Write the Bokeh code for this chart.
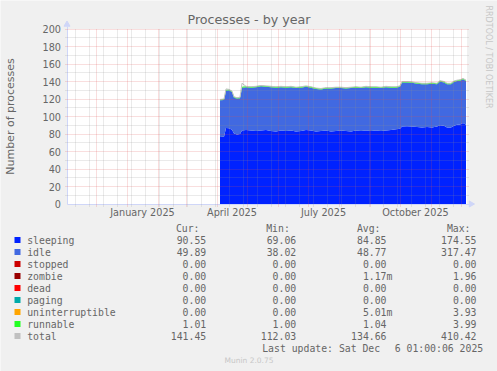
import math
import pandas as pd
from bokeh.plotting import figure
from bokeh.models import ColumnDataSource, FixedTicker, BoxAnnotation, Range1d
from bokeh.core.properties import value
from bokeh.embed import file_html
from bokeh.resources import INLINE

# ---------------- data ----------------
ORIGIN = "2024-11-02"   # left edge of the 400-day window
END_DAYS = 400

dates = ["2025-04-04", "2025-04-08", "2025-04-10", "2025-04-13", "2025-04-16", "2025-04-18",
         "2025-04-21", "2025-04-24", "2025-04-26", "2025-04-30", "2025-05-05", "2025-05-10",
         "2025-05-15", "2025-05-20", "2025-05-25", "2025-05-30", "2025-06-04", "2025-06-09",
         "2025-06-14", "2025-06-19", "2025-06-24", "2025-06-29", "2025-07-04", "2025-07-09",
         "2025-07-14", "2025-07-19", "2025-07-24", "2025-07-29", "2025-08-03", "2025-08-08",
         "2025-08-13", "2025-08-18", "2025-08-23", "2025-08-28", "2025-09-02", "2025-09-07",
         "2025-09-12", "2025-09-17", "2025-09-22", "2025-09-27", "2025-10-01", "2025-10-03",
         "2025-10-08", "2025-10-13", "2025-10-18", "2025-10-23", "2025-10-28", "2025-11-02",
         "2025-11-07", "2025-11-10", "2025-11-14", "2025-11-17", "2025-11-21", "2025-11-24",
         "2025-11-27", "2025-11-30", "2025-12-03", "2025-12-06"]
sleeping = [76.5, 77, 87, 86.5, 85, 80.5, 79.5, 80, 84, 84.5, 84, 83.5,
            84, 84.5, 83.5, 83, 84, 83.5, 84, 83, 83.5, 84.5, 84, 83,
            83.5, 84, 83, 83.5, 84, 83.5, 83, 84, 83.5, 84, 83.5, 84,
            83.5, 84, 84.5, 85.5, 86, 88.5, 89, 88.5, 88, 87.5, 88, 87.5,
            88.5, 90, 89.5, 87.5, 87.5, 89.5, 90.5, 91, 92.5, 90.5]
idle = [42, 42, 42.5, 43.5, 43, 41, 41, 41, 49, 49, 49, 50,
        50.5, 49.5, 50, 50, 49.5, 49.5, 49.5, 49.5, 49.5, 49.5, 49, 48.5,
        47.5, 48, 49, 49, 48.5, 48.5, 49.5, 49, 49, 49.5, 49.5, 49,
        49, 49.5, 48.5, 47.5, 48, 50.5, 50, 50, 49.5, 49.5, 49, 50,
        48.5, 50, 49.5, 49.5, 49.5, 50, 50, 50, 50, 50]
runnable = [1.0, 1.0, 1.0, 1.0, 1.0, 1.0, 1.0, 1.0, 1.0, 1.0, 1.0, 1.0,
            1.0, 1.0, 1.0, 1.0, 1.0, 1.0, 1.0, 1.0, 1.0, 1.0, 1.0, 1.0,
            1.0, 1.0, 1.0, 1.0, 1.0, 1.0, 1.0, 1.0, 1.0, 1.0, 1.0, 1.0,
            1.0, 1.0, 1.0, 1.0, 1.0, 1.0, 1.0, 1.0, 1.0, 1.0, 1.0, 1.0,
            1.0, 1.0, 1.0, 1.0, 1.0, 1.0, 1.0, 1.0, 1.0, 1.0]
total = [119.5, 120, 131.5, 131, 129, 122.5, 121.5, 122, 138, 134.5, 134, 134.5,
         135.5, 135, 134.5, 134, 134.5, 134, 134.5, 133.5, 134, 135, 134, 132.5,
         132, 133, 133, 133.5, 133.5, 133, 133.5, 134, 133.5, 134.5, 134, 134,
         133.5, 134.5, 134, 134, 135, 140, 140, 139.5, 138.5, 138, 138, 138.5,
         138, 141, 140, 138, 138, 140.5, 141.5, 142, 143.5, 141.5]

y_ticks = [0, 20, 40, 60, 80, 100, 120, 140, 160, 180, 200]
y_minor = [10, 30, 50, 70, 90, 110, 130, 150, 170, 190]
x_labels = ["January 2025", "April 2025", "July 2025", "October 2025"]
x_label_months = ["2025-01", "2025-04", "2025-07", "2025-10"]

legend_names = ["sleeping", "idle", "stopped", "zombie", "dead", "paging",
                "uninterruptible", "runnable", "total"]
legend_colors = ["#0022ff", "#4169e1", "#cc0000", "#990000", "#ff0000", "#00aaaa",
                 "#ffa500", "#22ff22", "#c0c0c0"]
cur_vals = ["90.55", "49.89", "0.00", "0.00", "0.00", "0.00", "0.00", "1.01", "141.45"]
min_vals = ["69.06", "38.02", "0.00", "0.00", "0.00", "0.00", "0.00", "1.00", "112.03"]
avg_vals = ["84.85", "48.77", "0.00", "1.17m", "0.00", "0.00", "5.01m", "1.04", "134.66"]
max_vals = ["174.55", "317.47", "0.00", "1.96", "0.00", "0.00", "3.93", "3.99", "410.42"]
headers = ["Cur:", "Min:", "Avg:", "Max:"]

# ---------------- geometry (page pixels -> data) ----------------
W, H = 497, 371
X0, Y0, SY = 66.5, 203.5, 0.875      # page x of day 0, page y of value 0, px per unit
def px(X): return X - X0
def py(Y): return (Y0 - Y) / SY

org = pd.Timestamp(ORIGIN)
def day(s):
    return float((pd.Timestamp(s) - org) / pd.Timedelta(days=1))

x = [day(d) for d in dates]
src = ColumnDataSource(dict(x=x, sleeping=sleeping, idle=idle, runnable=runnable, total=total))

month_starts = [day(m) for m in pd.date_range("2024-12-01", "2025-12-01", freq="MS")]
biweeks = [day(w) for w in pd.date_range("2024-11-10", "2025-12-06", freq="14D")]
label_pos = []
for m in x_label_months:
    a = pd.Timestamp(m + "-01")
    b = a + pd.offsets.MonthBegin(1)
    label_pos.append((day(a) + day(b)) / 2.0)

FONT = "#666666"
AXIS = "#cfd6f8"
MGRID = "#de4f4f"
GRID = "#8f8f8f"
WATER = "#c7c7c7"

p = figure(width=W, height=H, output_backend="svg", toolbar_location=None,
           x_range=Range1d(px(0), px(W)), y_range=Range1d(py(H), py(0)),
           min_border=0, min_border_left=0, min_border_right=0,
           min_border_top=0, min_border_bottom=0,
           background_fill_color="#f0f0f0", border_fill_color="#f0f0f0",
           outline_line_color=None)

# white canvas of the graph
p.add_layout(BoxAnnotation(left=0, right=END_DAYS, bottom=0, top=200,
                           fill_color="white", fill_alpha=1.0, line_color=None,
                           level="underlay"))

p.varea_stack(["sleeping", "idle", "runnable"], x="x",
              color=[legend_colors[0], legend_colors[1], legend_colors[7]], source=src)
p.line("x", "total", source=src, color=legend_colors[8], line_width=1)

# grids (on top of the data, dotted, as rrdtool draws them)
xg, yg = p.xgrid[0], p.ygrid[0]
xg.ticker = FixedTicker(ticks=month_starts, minor_ticks=biweeks)
xg.cross_bounds = (py(205.5), 200)
yg.ticker = FixedTicker(ticks=y_ticks[1:], minor_ticks=y_minor)
yg.cross_bounds = (-2, END_DAYS + 2)
for g in (xg, yg):
    g.grid_line_color = MGRID
    g.grid_line_alpha = 0.38
    g.grid_line_dash = "1 1"
    g.minor_grid_line_color = GRID
    g.minor_grid_line_alpha = 0.38
    g.minor_grid_line_dash = "1 1"
    g.level = "guide"

# axes pinned at the origin of the graph
ya = p.yaxis[0]
ya.fixed_location = 0
ya.bounds = (0, 203)
ya.ticker = FixedTicker(ticks=y_ticks)
xa = p.xaxis[0]
xa.fixed_location = 0
xa.bounds = (0, END_DAYS + 2)
xa.ticker = FixedTicker(ticks=label_pos)
xa.major_label_overrides = {pos: lab for pos, lab in zip(label_pos, x_labels)}
for ax, stand in ((ya, 6), (xa, 3)):
    ax.axis_line_color = AXIS
    ax.major_tick_line_color = None
    ax.minor_tick_line_color = None
    ax.major_tick_out = 0
    ax.major_tick_in = 0
    ax.minor_tick_out = 0
    ax.minor_tick_in = 0
    ax.major_label_standoff = stand
    ax.major_label_text_font = "DejaVu Sans"
    ax.major_label_text_font_size = "9.7px"
    ax.major_label_text_color = FONT

# axis arrows
p.scatter(x=[0], y=[py(24)], marker="triangle", size=6, color=AXIS)
p.scatter(x=[px(470.5)], y=[0], marker="triangle", size=6, color=AXIS, angle=-math.pi / 2)

def txt(xs, ys, texts, size, font="DejaVu Sans Mono", align="left", color=FONT, angle=0.0):
    p.text(x=[px(v) for v in xs], y=[py(v) for v in ys], text=list(texts),
           text_font=value(font), text_font_size=value(size), text_color=color,
           text_align=align, text_baseline="middle", angle=angle)

txt([248.5], [19], ["Processes - by year"], "12.7px", font="DejaVu Sans", align="center")
txt([10], [116], ["Number of processes"], "11px", font="DejaVu Sans", align="center",
    angle=math.pi / 2)
txt([488], [5], ["RRDTOOL / TOBI OETIKER"], "8px", font="DejaVu Sans", color=WATER,
    angle=-math.pi / 2)
txt([248.5], [360], ["Munin 2.0.75"], "7.5px", font="DejaVu Sans", align="center",
    color=WATER)

# legend table
HY = 227.5
txt([199, 289.3, 380, 470], [HY] * 4, headers, "9.8px", align="right")
rows = [239.5 + 12 * i for i in range(len(legend_names))]
p.scatter(x=[px(17)] * len(rows), y=[py(r) for r in rows], marker="square", size=6,
          color=legend_colors, line_color=None)
txt([26.7] * len(rows), rows, legend_names, "9.8px")
txt([205.7] * len(rows), rows, cur_vals, "9.8px", align="right")
txt([295.7] * len(rows), rows, min_vals, "9.8px", align="right")
txt([386 + (5.9 if a.endswith("m") else 0) for a in avg_vals], rows, avg_vals, "9.8px",
    align="right")
txt([476] * len(rows), rows, max_vals, "9.8px", align="right")
txt([261.7], [347.7], ["Last update: Sat Dec"], "9.8px")
txt([482.7], [347.7], ["6 01:00:06 2025"], "9.8px", align="right")

open("out.html", "w").write(file_html(p, INLINE))
